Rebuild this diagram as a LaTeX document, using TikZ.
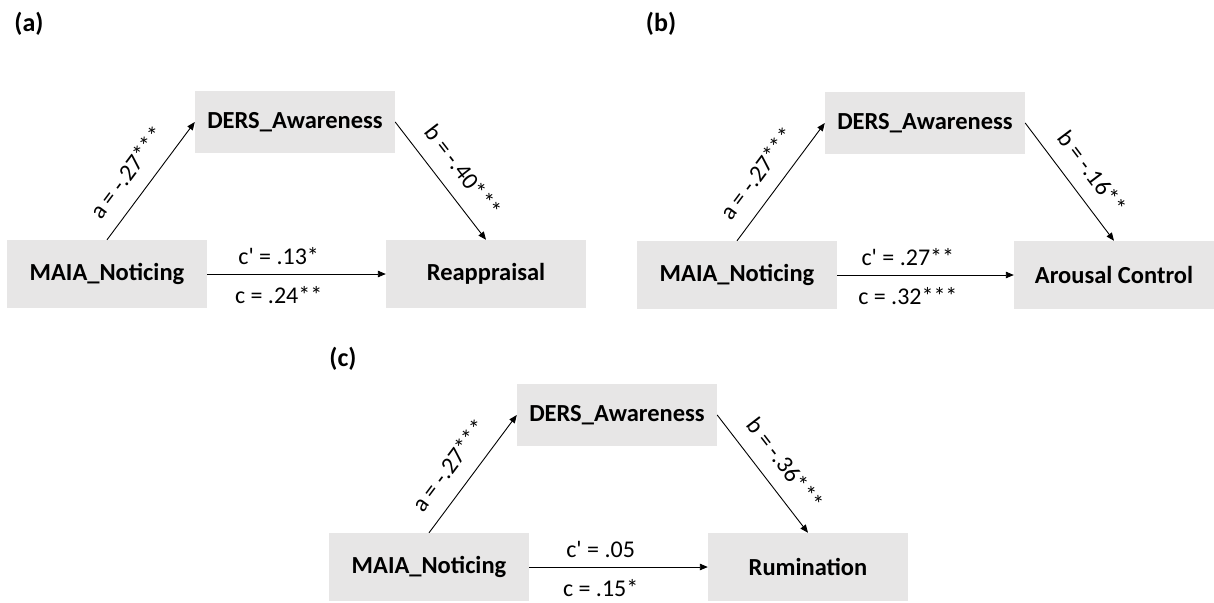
\documentclass[tikz,border=0pt]{standalone}
\usepackage{fontspec}
\setmainfont{Carlito}
\usetikzlibrary{arrows.meta}
\definecolor{boxgray}{RGB}{231,230,230}
\tikzset{
  box/.style={fill=boxgray, minimum width=200pt, inner sep=0pt, font=\bfseries\fontsize{24.5}{29}\selectfont},
  topbox/.style={box, minimum height=62pt},
  botbox/.style={box, minimum height=68pt},
  conn/.style={-{Triangle[length=8pt,width=6.5pt]}, line width=0.9pt},
  coef/.style={font=\fontsize{24}{28}\selectfont, inner sep=3pt},
  plabel/.style={font=\bfseries\fontsize{26}{30}\selectfont, inner sep=0pt}
}
\begin{document}
\begin{tikzpicture}[x=1pt,y=-1pt]
\fill[white] (0,0) rectangle (1214,602);
\useasboundingbox (0,0) rectangle (1214,602);
% panel (a)
\node[plabel] (la) at (29,24) {(a)};
\node[topbox] (da) at (295,122) {DERS\_Awareness};
\node[botbox] (ma) at (107,274) {MAIA\_Noticing};
\node[botbox] (ra) at (486,274) {Reappraisal};
\draw[conn] (ma.north) -- node[coef, sloped, above=12pt, pos=0.45] {a = -.27***} (da.west);
\draw[conn] (da.east) -- node[coef, sloped, above=12pt, pos=0.54] {b = -.40***} (ra.north);
\draw[conn] (ma.east) -- node[coef, above=6pt, pos=0.4] {c\textquotesingle{} = .13*} node[coef, below=9pt, pos=0.4] {c = .24**} (ra.west);
% panel (b)
\node[plabel] (lb) at (661,24) {(b)};
\node[topbox] (db) at (925,123) {DERS\_Awareness};
\node[botbox] (mb) at (737,275) {MAIA\_Noticing};
\node[botbox] (rb) at (1114,275) {Arousal Control};
\draw[conn] (mb.north) -- node[coef, sloped, above=12pt, pos=0.45] {a = -.27***} (db.west);
\draw[conn] (db.east) -- node[coef, sloped, above=12pt, pos=0.54] {b = -.16**} (rb.north);
\draw[conn] (mb.east) -- node[coef, above=6pt, pos=0.4] {c\textquotesingle{} = .27**} node[coef, below=9pt, pos=0.4] {c = .32***} (rb.west);
% panel (c)
\node[plabel] (lc) at (343,359) {(c)};
\node[topbox] (dc) at (617,415) {DERS\_Awareness};
\node[botbox] (mc) at (429,567) {MAIA\_Noticing};
\node[botbox] (rc) at (808,567) {Rumination};
\draw[conn] (mc.north) -- node[coef, sloped, above=12pt, pos=0.45] {a = -.27***} (dc.west);
\draw[conn] (dc.east) -- node[coef, sloped, above=12pt, pos=0.54] {b = -.36***} (rc.north);
\draw[conn] (mc.east) -- node[coef, above=6pt, pos=0.4] {c\textquotesingle{} = .05} node[coef, below=9pt, pos=0.4] {c = .15*} (rc.west);
\end{tikzpicture}
\end{document}
